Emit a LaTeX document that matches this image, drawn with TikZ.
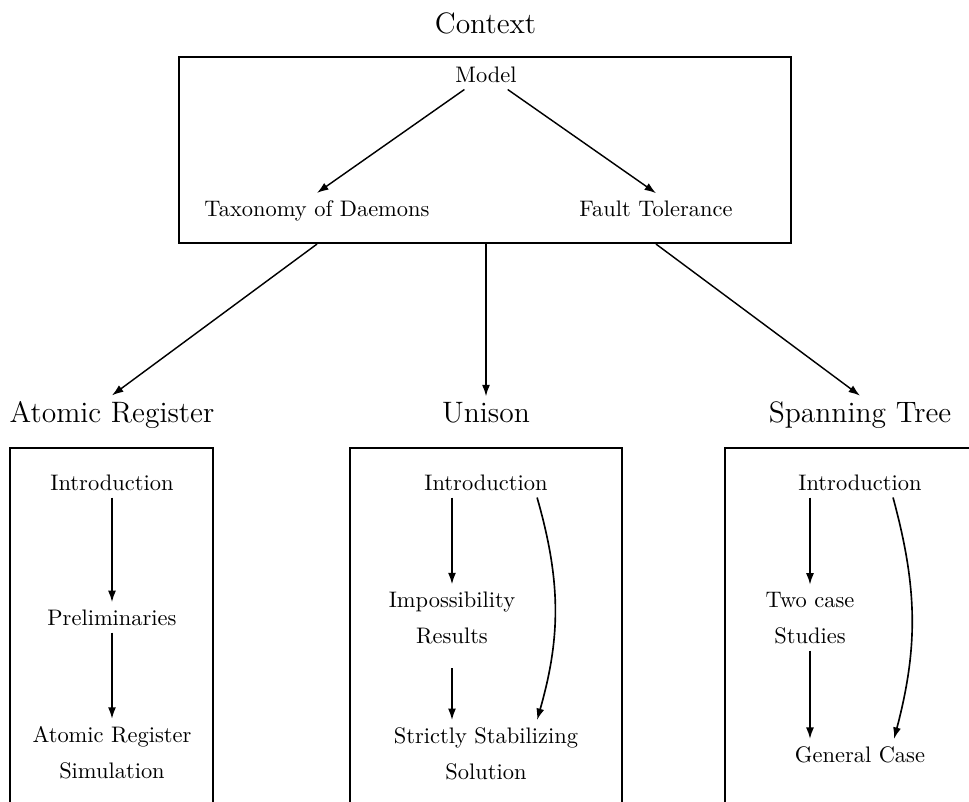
\documentclass[tikz,border=0pt]{standalone}
\usepackage{tikz}
\usetikzlibrary{arrows.meta}

\begin{document}
\begin{tikzpicture}[x=0.4875pt,y=-0.4875pt,
    title/.style={font=\fontsize{14.4}{18}\selectfont, inner sep=2.5pt, anchor=base},
    item/.style={font=\fontsize{10.95}{17.5}\selectfont, align=center, anchor=base},
    frame/.style={draw=black, line width=1pt},
    link/.style={black, line width=0.7pt, -{Latex[length=5.6pt,width=3.9pt]}},
    flow/.style={black, thick, -{Latex[length=5.6pt,width=3.9pt]}}]
       \useasboundingbox (0,0) rectangle (969,802);
       \clip (0,0) rectangle (969,802);
       % context
       \node[title] (context) at (485.5,33) {Context};
       \node[frame, minimum width=298.4pt, minimum height=90.7pt, inner sep=0pt] (ctx) at (485,150) {};
       \node[item] (model) at (486,82) {Model};
       \node[item] (tax) at (317,216) {Taxonomy of Daemons};
       \node[item] (fault) at (656,216) {Fault Tolerance};
       \draw[link] (model) -- (tax.north);
       \draw[link] (model) -- (fault.north);
       % chapters
       \node[title] (atom) at (112,422) {Atomic Register};
       \node[title] (unison) at (486,422) {Unison};
       \node[title] (stree) at (860,422) {Spanning Tree};
       \draw[link] (tax |- ctx.south) -- (atom.north);
       \draw[link] (unison |- ctx.south) -- (unison.north);
       \draw[link] (fault |- ctx.south) -- (stree.north);
       \draw[frame] (10,448) rectangle (213,830);
       \draw[frame] (350,448) rectangle (622,830);
       \draw[frame] (725,448) rectangle (997,830);
       % atomic register
       \node[item] (lintro) at (112,490) {Introduction};
       \node[item] (lpre) at (112,625) {Preliminaries};
       \node[item] (lsim) at (112,778) {Atomic Register\\Simulation};
       \draw[flow] (lintro) -- (lpre);
       \draw[flow] (lpre) -- (lsim);
       % unison
       \node[item] (uintro) at (486,490) {Introduction};
       \node[item] (uimp) at (452,643) {Impossibility\\Results};
       \node[item] (ustrict) at (486,779) {Strictly Stabilizing\\Solution};
       \draw[flow] (uintro.south -| uimp) -- (uimp);
       \draw[flow] ([yshift=-8.5pt]uimp.south) -- (uimp.south |- ustrict.north);
       \draw[flow] ([xshift=24.9pt]uintro.south) to[bend left=16] ([xshift=24.9pt]ustrict.north);
       % spanning tree
       \node[item] (rintro) at (860,490) {Introduction};
       \node[item] (rtwo) at (810,643) {Two case\\Studies};
       \node[item] (rgen) at (860,762) {General Case};
       \draw[flow] (rintro.south -| rtwo) -- (rtwo);
       \draw[flow] (rtwo) -- (rtwo |- rgen.north);
       \draw[flow] ([xshift=16.1pt]rintro.south) to[bend left=15] ([xshift=16.6pt]rgen.north);
      \end{tikzpicture}
\end{document}
